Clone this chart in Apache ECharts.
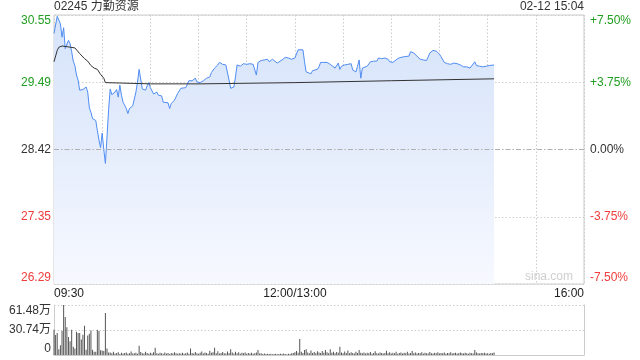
<!DOCTYPE html>
<html><head><meta charset="utf-8">
<script src="https://cdn.jsdelivr.net/npm/echarts@6/dist/echarts.min.js"></script>
<style>html,body{margin:0;padding:0;background:#fff}#c{width:640px;height:360px}</style>
</head><body><div id="c"></div>
<script>
// ---- data ----
const stockTitle = '02245 力勤资源';
const stampText = '02-12 15:04';
const prevClose = 28.42;
// trading minutes after 09:30 open (lunch 12:00-13:00 removed)
const priceMin = [0,1,2,3,4,5,6,7,8,9,10,11,12,13,14,15,16,17,18,19,20,21,22,23,24,25,26,27,28,29,30,31,32,33,34,35,36,37,38,39,40,41,42,43,44,45,46,47,48,49,50,51,52,53,54,55,56,57,58,59,60,61,62,63,64,65,66,67,68,69,71,72,73,74,75,77,79,82,83,84,86,87,88,89,90,91,93,95,97,98,100,102,103,105,107,108,109,110,112,113,114,115,116,118,120,122,124,125,126,127,129,131,132,133,134,136,137,139,140,142,144,146,148,149,150,152,153,155,156,157,158,160,161,164,165,166,168,170,172,173,175,176,177,178,179,181,183,185,186,188,189,190,191,192,193,195,197,199,201,202,204,206,208,209,211,212,214,216,218,221,222,224,226,228,230,232,233,234,236,238,240,241,243,245,247,249,251,253,255,257,259,260,262,263,265,267,269,271,272,274];
const priceVal = [30.26,30.25,30.53,30.55,30.41,30.20,30.35,30.02,30.04,30.15,30.10,29.97,29.82,29.75,29.60,29.52,29.36,29.38,29.37,29.40,29.41,29.33,29.08,29.01,28.91,28.90,28.88,28.72,28.57,28.45,28.68,28.42,28.20,28.62,29.05,29.38,29.29,29.28,29.33,29.37,29.25,29.44,29.28,29.17,29.12,29.07,28.99,29.07,29.10,29.11,29.22,29.33,29.49,29.69,29.66,29.38,29.41,29.36,29.43,29.48,29.40,29.41,29.30,29.30,29.33,29.28,29.29,29.27,29.17,29.16,29.16,29.07,29.15,29.13,29.20,29.31,29.39,29.40,29.39,29.51,29.51,29.53,29.55,29.49,29.47,29.48,29.51,29.55,29.57,29.64,29.71,29.76,29.80,29.77,29.76,29.73,29.52,29.39,29.41,29.57,29.76,29.79,29.74,29.78,29.77,29.78,29.77,29.78,29.60,29.80,29.83,29.84,29.87,29.85,29.81,29.85,29.83,29.79,29.76,29.84,29.88,29.87,29.85,29.82,29.87,30.00,30.01,30.00,29.81,29.65,29.63,29.62,29.67,29.69,29.73,29.80,29.80,29.80,29.77,29.78,29.71,29.68,29.79,29.69,29.74,29.76,29.77,29.78,29.68,29.65,29.74,29.84,29.55,29.71,29.69,29.74,29.81,29.82,29.82,29.87,29.86,29.87,29.85,29.81,29.80,29.81,29.86,29.88,29.89,29.90,29.97,29.95,29.90,29.85,29.84,29.83,29.85,29.95,29.99,29.98,29.93,29.89,29.80,29.78,29.77,29.79,29.78,29.76,29.73,29.73,29.71,29.70,29.81,29.75,29.74,29.73,29.74,29.75,29.77,29.76];
const avgMin = [0,2,3,5,8,13,16,19,21,23,25,27,29,31,32,33,60,91,150,210,274];
const avgVal = [29.81,29.99,30.04,30.06,30.05,30.03,29.94,29.86,29.82,29.75,29.71,29.69,29.61,29.55,29.48,29.46,29.46,29.46,29.48,29.51,29.54];
// volume per minute from 09:30, in 万 shares
const volume = [31,24.6,27,7,12,29.5,61.48,46.7,34,22,17,31,10,8,28.7,27,27,19,25,36,6.5,24,26,30,6.5,4,4,31,29.5,5.7,5.5,5,51.7,8,3,
3.2,2.1,4.0,1.8,2.6,3.5,1.2,2.8,1.9,2.4,
3.1,1.5,2.2,4.3,1.7,2.0,2.9,1.4,11.5,3.6,
2.3,1.8,3.9,2.5,1.6,2.7,1.9,3.3,9.0,2.1,
1.4,2.8,2.2,1.6,3.0,1.9,2.4,1.3,2.6,1.8,
3.4,2.0,1.5,2.3,1.7,2.9,1.4,2.1,3.1,1.6,
8.0,2.5,1.8,3.6,2.2,1.5,2.7,4.2,1.9,3.0,
2.4,1.6,5.1,2.8,3.3,9.0,2.0,4.6,1.7,2.5,
3.8,2.2,1.9,4.4,2.6,7.0,3.1,1.8,4.0,2.3,
3.5,1.6,2.9,2.1,3.2,1.5,2.4,1.9,2.7,1.4,
2.0,3.0,6.0,1.7,2.2,1.3,1.8,1.1,1.5,1.2,
1.4,1.0,1.3,1.6,0.9,1.2,1.5,1.1,1.7,1.3,
1.0,1.4,1.2,2.0,2.6,3.5,5.0,2.8,19.7,4.0,
2.5,6.2,7.0,3.1,2.2,5.4,2.6,3.8,2.1,4.5,
3.0,2.4,5.0,2.7,6.1,3.3,2.0,7.2,2.9,4.1,
2.3,3.6,2.8,10.0,3.1,2.2,4.4,2.5,5.6,2.0,
3.4,2.6,1.9,4.0,2.4,6.0,2.8,2.1,3.2,1.8,
2.9,2.3,3.7,1.6,2.5,4.5,2.1,1.9,3.0,2.4,
1.7,2.6,5.2,2.2,3.3,1.8,2.7,2.0,3.9,1.6,
2.4,3.1,1.9,2.8,2.2,4.0,1.7,2.5,5.0,2.0,
3.2,1.8,2.6,2.1,3.4,1.6,2.9,2.3,1.8,3.6,
2.2,1.9,2.8,2.0,3.5,1.7,2.4,2.1,3.0,1.6,
2.6,2.0,3.3,1.8,2.4,2.9,1.7,2.2,3.1,2.0,
1.9,2.7,2.3,1.6,2.8,2.1,1.8,6.0,3.0,2.2,
1.7,2.5,2.0,2.9,1.8,2.3,1.6,2.4,2.0,3.2];
const timeLabels = {0:'09:30', 150:'12:00/13:00', 330:'16:00'};
const volMax = 61.48;

// ---- chart ----
const GREEN = '#1f9e1f', RED = '#f03c3c', TXT = '#333';
const FONT = 'Liberation Sans, Arial, Noto Sans CJK SC, sans-serif';
const pct = p => (p - prevClose) / prevClose * 100;
const chart = echarts.init(document.getElementById('c'));
const gridLineColors = ['#d0d0d0','#d0d0d0','rgba(0,0,0,0)','#d0d0d0','#d0d0d0'];
chart.setOption({
  animation: false,
  textStyle: {fontFamily: FONT},
  title: [
    {text: stockTitle, left: 54, top: 1, padding: 0, textStyle: {fontSize: 12, fontWeight: 'normal', color: TXT, fontFamily: FONT}},
    {text: stampText, right: 56, top: 1, padding: 0, textStyle: {fontSize: 12, fontWeight: 'normal', color: TXT, fontFamily: FONT}}
  ],
  graphic: [{type: 'text', right: 67, top: 271, style: {text: 'sina.com', fill: '#cfcfcf', font: '12px ' + FONT}}],
  grid: [
    {left: 54, right: 56, top: 15, height: 269, show: true, borderColor: '#cccccc', borderWidth: 1, backgroundColor: 'transparent'},
    {left: 54, right: 56, top: 305, height: 50}
  ],
  xAxis: [
    {type: 'value', gridIndex: 0, min: 0, max: 330, interval: 30,
     axisLine: {show: false}, axisTick: {show: false},
     splitLine: {show: true, lineStyle: {color: '#cccccc', type: [1.5, 2]}},
     axisLabel: {show: true, margin: 4, fontSize: 12, color: '#222', fontFamily: FONT,
       alignMinLabel: 'left', alignMaxLabel: 'right', showMinLabel: true, showMaxLabel: true,
       formatter: v => timeLabels[v] || ''}},
    {type: 'value', gridIndex: 1, min: 0, max: 330, interval: 30,
     axisLine: {show: true, lineStyle: {color: '#cccccc'}}, axisTick: {show: false},
     splitLine: {show: false}, axisLabel: {show: false}}
  ],
  yAxis: [
    {type: 'value', gridIndex: 0, min: -7.5, max: 7.5, interval: 3.75,
     axisLine: {show: false}, axisTick: {show: false},
     splitLine: {show: true, lineStyle: {color: gridLineColors, type: [1.5, 2]}},
     axisLabel: {fontSize: 12, margin: 3, fontFamily: FONT,
       verticalAlignMinLabel: 'bottom', verticalAlignMaxLabel: 'top',
       formatter: v => '{' + (v > 1e-9 ? 'g' : v < -1e-9 ? 'r' : 'k') + '|' + (prevClose * (1 + v / 100)).toFixed(2) + '}',
       rich: {g: {color: GREEN, fontSize: 12}, r: {color: RED, fontSize: 12}, k: {color: TXT, fontSize: 12}}}},
    {type: 'value', gridIndex: 0, position: 'right', min: -7.5, max: 7.5, interval: 3.75,
     axisLine: {show: false}, axisTick: {show: false}, splitLine: {show: false},
     axisLabel: {fontSize: 12, margin: 6, fontFamily: FONT,
       verticalAlignMinLabel: 'bottom', verticalAlignMaxLabel: 'top',
       formatter: v => '{' + (v > 1e-9 ? 'g' : v < -1e-9 ? 'r' : 'k') + '|' + (v > 1e-9 ? '+' : '') + v.toFixed(2) + '%}',
       rich: {g: {color: GREEN, fontSize: 12}, r: {color: RED, fontSize: 12}, k: {color: TXT, fontSize: 12}}}},
    {type: 'value', gridIndex: 1, min: 0, max: volMax, interval: volMax / 2,
     axisLine: {show: true, lineStyle: {color: '#cccccc'}}, axisTick: {show: false},
     splitLine: {show: true, lineStyle: {color: '#cccccc', type: [1.5, 2]}},
     axisLabel: {fontSize: 12, margin: 3, color: TXT, fontFamily: FONT,
       verticalAlignMinLabel: 'bottom', verticalAlignMaxLabel: 'top',
       formatter: v => v < 1e-9 ? '0' : v.toFixed(2) + '万'}},
    {type: 'value', gridIndex: 1, position: 'right', min: 0, max: volMax,
     axisLine: {show: true, lineStyle: {color: '#cccccc'}}, axisTick: {show: false},
     splitLine: {show: false}, axisLabel: {show: false}}
  ],
  series: [
    {type: 'line', xAxisIndex: 0, yAxisIndex: 0, showSymbol: false, silent: true,
     data: priceMin.map((m, i) => [m, pct(priceVal[i])]),
     lineStyle: {color: '#4f8cf2', width: 1},
     areaStyle: {origin: 'start', opacity: 1, color: new echarts.graphic.LinearGradient(0, 0, 0, 1, [
       {offset: 0, color: '#d5e3fa'}, {offset: 0.5, color: '#e5edfc'}, {offset: 1, color: '#f7f9ff'}])},
     markLine: {silent: true, symbol: 'none', label: {show: false},
       lineStyle: {color: '#b0b0b0', type: [5, 2, 1.5, 2], width: 1}, data: [{yAxis: 0}]},
     z: 3},
    {type: 'line', xAxisIndex: 0, yAxisIndex: 0, showSymbol: false, silent: true,
     data: avgMin.map((m, i) => [m, pct(avgVal[i])]),
     lineStyle: {color: '#333333', width: 1}, z: 4},
    {type: 'bar', xAxisIndex: 1, yAxisIndex: 2, silent: true, barWidth: 1,
     data: volume.map((v, i) => [i, v]), itemStyle: {color: '#555555'}}
  ]
});
</script></body></html>
